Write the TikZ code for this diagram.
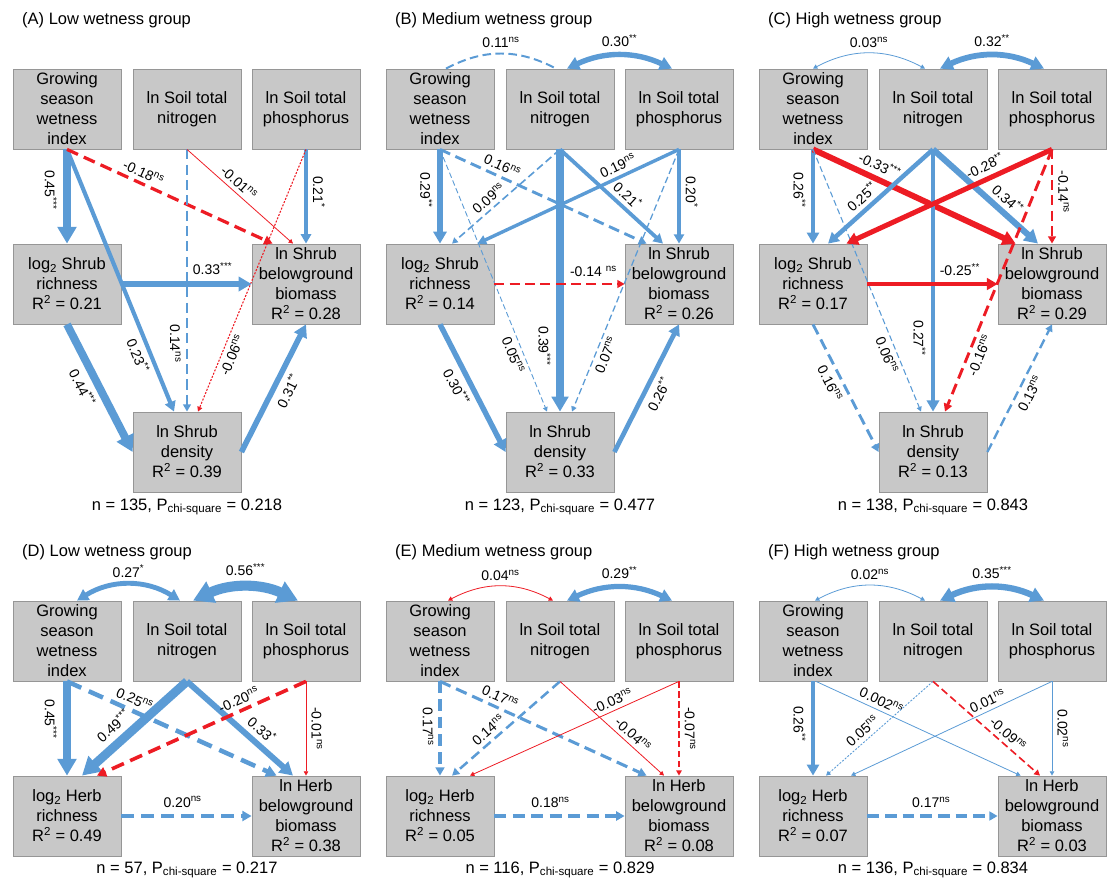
\documentclass[tikz,border=0pt]{standalone}
\usepackage{fontspec}
\setmainfont{Liberation Sans}
\usetikzlibrary{arrows.meta}
\definecolor{effblue}{RGB}{91,155,213}
\definecolor{effred}{RGB}{237,28,36}
\definecolor{boxfill}{RGB}{200,200,200}
\definecolor{boxline}{RGB}{150,150,150}

\begin{document}
\begin{tikzpicture}[x=1pt,y=-1pt,>={Triangle[length=3pt 1.7,width=3pt 1.9]},
        posef/.style={->,draw=effblue,line width={max(0.8,18*#1)*1pt}},
        negef/.style={->,draw=effred,line width={max(0.8,18*#1)*1pt}},
        ns/.style={dash pattern=on {3pt+2.8*\pgflinewidth} off {1.5pt+1.5*\pgflinewidth}},
        nsdot/.style={dash pattern=on 2pt off 1.5pt},
        cor/.style={<->,bend left=#1},
        lab/.style={font=\fontsize{14}{16}\selectfont,inner sep=1pt}]
        \tikzstyle{box}=[draw=boxline,fill=boxfill,line width=0.8pt,minimum width=108pt,
            minimum height=80pt,inner sep=0pt,align=center,font=\fontsize{16.5}{20}\selectfont]
        \tikzstyle{ttl}=[anchor=west,inner sep=0pt,font=\fontsize{16.5}{20}\selectfont]
        \tikzstyle{foot}=[font=\fontsize{16.5}{20}\selectfont]
        \useasboundingbox (0,0) rectangle (1108,884);

        % shrub panels
        \foreach \g/\lt/\wt/\dx/\rs/\rb/\rd/\nn/\pv in
            {a/A/Low/0/0.21/0.28/0.39/135/0.218,
             b/B/Medium/373/0.14/0.26/0.33/123/0.477,
             c/C/High/746/0.17/0.29/0.13/138/0.843}{
          \begin{scope}[shift={(\dx,0)}]
            \node[ttl] (t\g) at (22,20) {(\lt) \wt\ wetness group};
            \node[box] (w\g) at (67,109) {Growing\\season\\wetness\\index};
            \node[box] (n\g) at (187,109) {ln Soil total\\nitrogen};
            \node[box] (p\g) at (306,109) {ln Soil total\\phosphorus};
            \node[box] (r\g) at (67,284) {log\textsubscript{2} Shrub\\richness\\R\textsuperscript{2} = \rs};
            \node[box] (b\g) at (306,284) {ln Shrub\\belowground\\biomass\\R\textsuperscript{2} = \rb};
            \node[box] (d\g) at (187,452) {ln Shrub\\density\\R\textsuperscript{2} = \rd};
            \node[foot] (f\g) at (187,507) {n = \nn, P\textsubscript{chi-square} = \pv};
          \end{scope}}

        % herb panels
        \foreach \g/\lt/\wt/\dx/\rs/\rb/\nn/\pv in
            {d/D/Low/0/0.49/0.38/57/0.217,
             e/E/Medium/373/0.05/0.08/116/0.829,
             f/F/High/746/0.07/0.03/136/0.834}{
          \begin{scope}[shift={(\dx,532)}]
            \node[ttl] (t\g) at (22,20) {(\lt) \wt\ wetness group};
            \node[box] (w\g) at (67,109) {Growing\\season\\wetness\\index};
            \node[box] (n\g) at (187,109) {ln Soil total\\nitrogen};
            \node[box] (p\g) at (306,109) {ln Soil total\\phosphorus};
            \node[box] (r\g) at (67,284) {log\textsubscript{2} Herb\\richness\\R\textsuperscript{2} = \rs};
            \node[box] (b\g) at (306,284) {ln Herb\\belowground\\biomass\\R\textsuperscript{2} = \rb};
            \node[foot] (f\g) at (187,338) {n = \nn, P\textsubscript{chi-square} = \pv};
          \end{scope}}

        % (A)
        \path
            (wa.south) edge[posef=0.45] node[lab,pos=.43,sloped,below=5pt] {0.45\textsuperscript{***}} (ra.north)
            (wa.south) edge[posef=0.23] node[lab,pos=.77,sloped,below=3pt] {0.23\textsuperscript{**}} ([xshift=-13]da.north)
            (wa.south) edge[negef=0.18,ns] node[lab,pos=.35,sloped,above=3pt] {-0.18\textsuperscript{ns}} ([xshift=21]ba.north west)
            (na.south) edge[posef=0.14,ns] node[lab,pos=.74,sloped,below=4pt] {0.14\textsuperscript{ns}} (da.north)
            (na.south) edge[negef=0.01] node[lab,pos=.43,sloped,above=3pt] {-0.01\textsuperscript{ns}} ([xshift=-13]ba.north)
            (pa.south) edge[posef=0.21] node[lab,pos=.45,sloped,above=4pt] {0.21\textsuperscript{*}} (ba.north)
            (pa.south) edge[negef=0.06,nsdot] node[lab,pos=.77,sloped,below=3pt] {-0.06\textsuperscript{ns}} ([xshift=11]da.north)
            (ra.east) edge[posef=0.33] node[lab,pos=.7,above=5pt] {0.33\textsuperscript{***}} (ba.west)
            (ra.south) edge[posef=0.44] node[lab,pos=.44,sloped,below=4pt] {0.44\textsuperscript{***}} (da.west)
            (da.east) edge[posef=0.31] node[lab,pos=.53,sloped,below=4pt] {0.31\textsuperscript{**}} (ba.south);

        % (B)
        \path
            ([xshift=6]wb.north) edge[posef=0.11,ns,cor=28,-] node[lab,midway,above=4pt] {0.11\textsuperscript{ns}} ([xshift=-4]nb.north)
            ([xshift=7]nb.north) edge[posef=0.30,cor=25] node[lab,midway,above=5pt] {0.30\textsuperscript{**}} ([xshift=-7]pb.north)
            (wb.south) edge[posef=0.29] node[lab,pos=.43,sloped,below=4pt] {0.29\textsuperscript{**}} (rb.north)
            (wb.south) edge[posef=0.16,ns] node[lab,pos=.28,sloped,above=3pt] {0.16\textsuperscript{ns}} ([xshift=22]bb.north west)
            (wb.south) edge[posef=0.05,ns] node[lab,pos=.77,sloped,below=3pt] {0.05\textsuperscript{ns}} ([xshift=-13]db.north)
            (nb.south) edge[posef=0.09,ns] node[lab,pos=.6,sloped,above=3pt] {0.09\textsuperscript{ns}} ([xshift=12]rb.north)
            (nb.south) edge[posef=0.39] node[lab,pos=.75,sloped,below=5pt] {0.39\textsuperscript{***}} (db.north)
            (nb.south) edge[posef=0.21] node[lab,pos=.58,sloped,above=3pt] {0.21\textsuperscript{*}} ([xshift=-16]bb.north)
            (pb.south) edge[posef=0.19] node[lab,pos=.28,sloped,above=3pt] {0.19\textsuperscript{ns}} ([xshift=-17]rb.north east)
            (pb.south) edge[posef=0.20] node[lab,pos=.45,sloped,above=4pt] {0.20\textsuperscript{*}} (bb.north)
            (pb.south) edge[posef=0.07,ns] node[lab,pos=.77,sloped,below=3pt] {0.07\textsuperscript{ns}} ([xshift=12]db.north)
            (rb.east) edge[negef=0.14,ns] node[lab,pos=.76,above=5pt] {-0.14 \textsuperscript{ns}} (bb.west)
            (rb.south) edge[posef=0.30] node[lab,pos=.44,sloped,below=4pt] {0.30\textsuperscript{***}} (db.west)
            (db.east) edge[posef=0.26] node[lab,pos=.5,sloped,below=4pt] {0.26\textsuperscript{**}} (bb.south);

        % (C)
        \path
            (wc.north) edge[posef=0.03,cor=28] node[lab,midway,above=4pt] {0.03\textsuperscript{ns}} ([xshift=-8]nc.north)
            ([xshift=7]nc.north) edge[posef=0.32,cor=25] node[lab,midway,above=5pt] {0.32\textsuperscript{**}} ([xshift=-8]pc.north)
            (wc.south) edge[posef=0.26] node[lab,pos=.43,sloped,below=4pt] {0.26\textsuperscript{**}} (rc.north)
            (wc.south) edge[negef=0.33] node[lab,pos=.3,sloped,above=4pt] {-0.33\textsuperscript{***}} ([xshift=18]bc.north west)
            (wc.south) edge[posef=0.06,ns] node[lab,pos=.77,sloped,below=3pt] {0.06\textsuperscript{ns}} ([xshift=-12]dc.north)
            (nc.south) edge[posef=0.25] node[lab,pos=.6,sloped,above=3pt] {0.25\textsuperscript{**}} ([xshift=15]rc.north)
            (nc.south) edge[posef=0.27] node[lab,pos=.72,sloped,below=4pt] {0.27\textsuperscript{**}} (dc.north)
            (nc.south) edge[posef=0.34] node[lab,pos=.63,sloped,above=3pt] {0.34\textsuperscript{**}} ([xshift=-14]bc.north)
            (pc.south) edge[negef=0.28] node[lab,pos=.3,sloped,above=4pt] {-0.28\textsuperscript{**}} ([xshift=-21]rc.north east)
            (pc.south) edge[negef=0.14,ns] node[lab,pos=.45,sloped,above=4pt] {-0.14\textsuperscript{ns}} (bc.north)
            (pc.south) edge[negef=0.16,ns] node[lab,pos=.77,sloped,below=3pt] {-0.16\textsuperscript{ns}} ([xshift=12]dc.north)
            (rc.east) edge[negef=0.25] node[lab,pos=.71,above=5pt] {-0.25\textsuperscript{**}} (bc.west)
            (rc.south) edge[posef=0.16,ns] node[lab,pos=.42,sloped,below=4pt] {0.16\textsuperscript{ns}} (dc.west)
            (dc.east) edge[posef=0.13,ns] node[lab,pos=.5,sloped,below=4pt] {0.13\textsuperscript{ns}} (bc.south);

        % (D)
        \path
            ([xshift=10]wd.north) edge[posef=0.27,cor=32] node[lab,midway,above=4pt] {0.27\textsuperscript{*}} ([xshift=-7]nd.north)
            ([xshift=6]nd.north) edge[posef=0.56,cor=25] node[lab,midway,above=6pt] {0.56\textsuperscript{***}} ([xshift=-8]pd.north)
            (wd.south) edge[posef=0.45] node[lab,pos=.4,sloped,below=5pt] {0.45\textsuperscript{***}} (rd.north)
            (wd.south) edge[posef=0.25,ns] node[lab,pos=.3,sloped,above=3pt] {0.25\textsuperscript{ns}} ([xshift=25]bd.north west)
            (nd.south) edge[posef=0.49] node[lab,pos=.6,sloped,above=5pt] {0.49\textsuperscript{***}} ([xshift=15]rd.north)
            (nd.south) edge[posef=0.33] node[lab,pos=.62,sloped,above=4pt] {0.33\textsuperscript{*}} ([xshift=-13]bd.north)
            (pd.south) edge[negef=0.20,ns] node[lab,pos=.3,sloped,above=3pt] {-0.20\textsuperscript{ns}} ([xshift=30]rd.north)
            (pd.south) edge[negef=0.01] node[lab,pos=.5,sloped,above=4pt] {-0.01\textsuperscript{ns}} (bd.north)
            (rd.east) edge[posef=0.20,ns] node[lab,pos=.47,above=6pt] {0.20\textsuperscript{ns}} (bd.west);

        % (E)
        \path
            ([xshift=8]we.north) edge[negef=0.04,cor=28] node[lab,midway,above=4pt] {0.04\textsuperscript{ns}} ([xshift=-7]ne.north)
            ([xshift=7]ne.north) edge[posef=0.29,cor=25] node[lab,midway,above=5pt] {0.29\textsuperscript{**}} ([xshift=-7]pe.north)
            (we.south) edge[posef=0.17,ns] node[lab,pos=.48,sloped,below=4pt] {0.17\textsuperscript{ns}} (re.north)
            (we.south) edge[posef=0.17,ns] node[lab,pos=.27,sloped,above=3pt] {0.17\textsuperscript{ns}} ([xshift=22]be.north west)
            (ne.south) edge[posef=0.14,ns] node[lab,pos=.6,sloped,above=3pt] {0.14\textsuperscript{ns}} ([xshift=12]re.north)
            (ne.south) edge[negef=0.04] node[lab,pos=.64,sloped,above=3pt] {-0.04\textsuperscript{ns}} ([xshift=-15]be.north)
            (pe.south) edge[negef=0.03] node[lab,pos=.3,sloped,above=3pt] {-0.03\textsuperscript{ns}} ([xshift=30]re.north)
            (pe.south) edge[negef=0.07,ns] node[lab,pos=.5,sloped,above=4pt] {-0.07\textsuperscript{ns}} (be.north)
            (re.east) edge[posef=0.18,ns] node[lab,pos=.43,above=6pt] {0.18\textsuperscript{ns}} (be.west);

        % (F)
        \path
            ([xshift=2]wf.north) edge[posef=0.02,cor=28] node[lab,midway,above=4pt] {0.02\textsuperscript{ns}} ([xshift=-8]nf.north)
            ([xshift=7]nf.north) edge[posef=0.35,cor=25] node[lab,midway,above=5pt] {0.35\textsuperscript{***}} ([xshift=-8]pf.north)
            (wf.south) edge[posef=0.26] node[lab,pos=.45,sloped,below=4pt] {0.26\textsuperscript{**}} (rf.north)
            ([xshift=3]wf.south) edge[posef=0.002] node[lab,pos=.3,sloped,above=3pt] {0.002\textsuperscript{ns}} ([xshift=23]bf.north west)
            (nf.south) edge[posef=0.05,nsdot] node[lab,pos=.6,sloped,above=3pt] {0.05\textsuperscript{ns}} ([xshift=13]rf.north)
            (nf.south) edge[negef=0.09,ns] node[lab,pos=.64,sloped,above=3pt] {-0.09\textsuperscript{ns}} ([xshift=-12]bf.north)
            (pf.south) edge[posef=0.01] node[lab,pos=.3,sloped,above=3pt] {0.01\textsuperscript{ns}} ([xshift=38]rf.north)
            (pf.south) edge[posef=0.02] node[lab,pos=.5,sloped,above=4pt] {0.02\textsuperscript{ns}} (bf.north)
            (rf.east) edge[posef=0.17,ns] node[lab,pos=.49,above=6pt] {0.17\textsuperscript{ns}} (bf.west);
\end{tikzpicture}
\end{document}
